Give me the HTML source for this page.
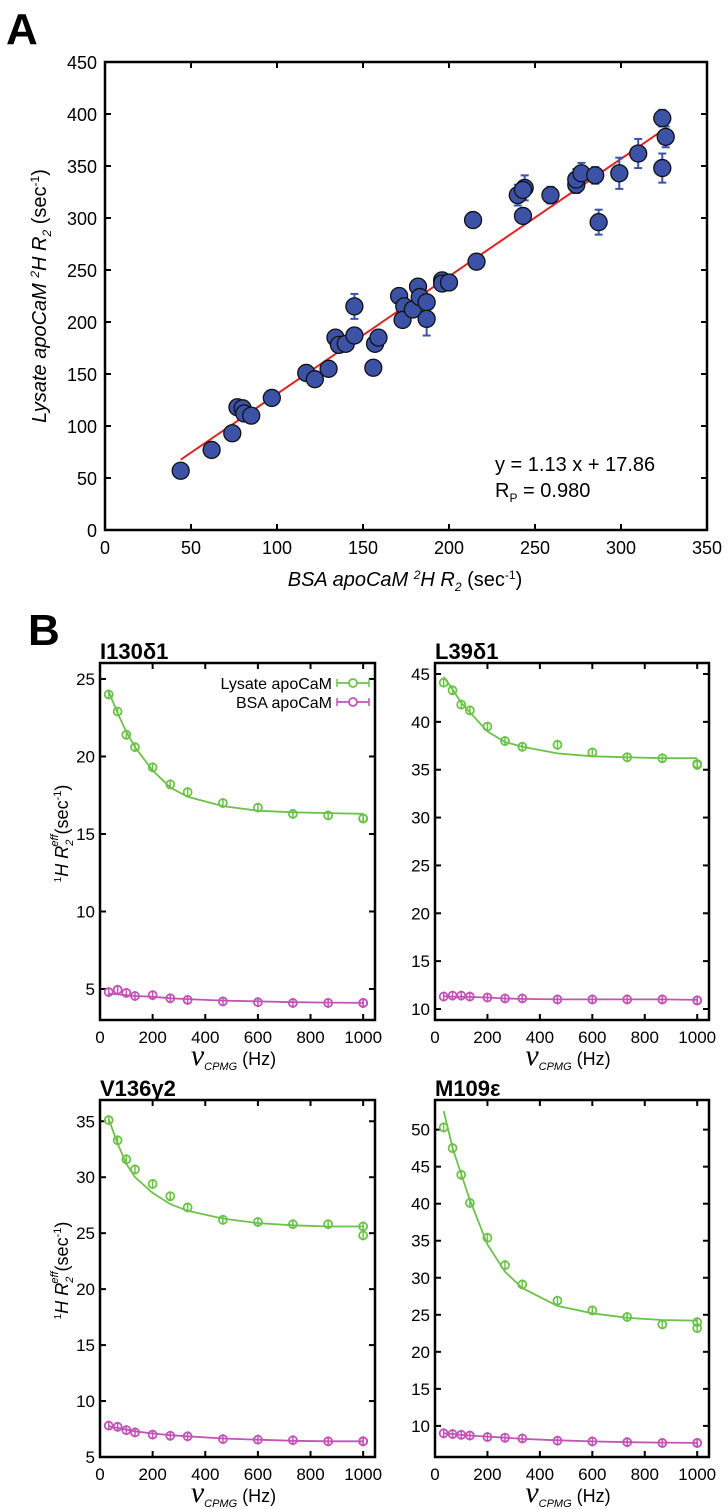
<!DOCTYPE html>
<html><head><meta charset="utf-8"><style>
html,body{margin:0;padding:0;background:#fff;}
svg{display:block;font-family:"Liberation Sans",sans-serif;}
</style></head><body>
<svg id="fig" width="728" height="1509" viewBox="0 0 728 1509" xmlns="http://www.w3.org/2000/svg">
<text x="6" y="44" font-size="44" font-weight="bold">A</text>
<text x="28" y="645" font-size="44" font-weight="bold">B</text>
<g id="gA"></g>
<g id="gB"></g>
</svg>
<script>
// Panel A data
const aX = [44,62,74,77,80,81,85,97,117,122,130,134,136,140,145,145,156,157,159,171,174,173,179,182,183,187,187,196,196,200,214,216,243,240,244,243,259,274,274,277,285,287,299,310,324,326,324];
const aY = [57,77,93,118,117,112,110,127,151,145,155,185,178,179,187,215,156,179,185,225,215,202,212,234,224,219,203,240,237,238,298,258,302,322,329,327,322,332,337,343,341,296,343,362,396,378,348];
const aErr = [2,2,2,2,2,2,2,2,2,2,2,3,2,2,3,12,2,3,3,3,3,3,3,4,5,4,16,4,4,3,3,4,6,10,12,8,8,8,10,10,8,12,15,14,8,10,14];
const aTicksX = [0,50,100,150,200,250,300,350];
const aTicksY = [0,50,100,150,200,250,300,350,400,450];
const fitSlope = 1.13, fitIntercept = 17.86, fitRange = [44,325];

// Panel B data
const nuX = [33,67,100,133,200,267,333,467,600,733,867,1000,1000];
const fitNu = [33,67,100,133,200,267,333,467,600,733,867,1000];
const i130Lys = [24.0,22.9,21.4,20.6,19.3,18.2,17.7,17.0,16.7,16.3,16.2,16.0,16.0];
const i130BSA = [4.8,4.95,4.75,4.55,4.6,4.4,4.3,4.2,4.15,4.1,4.1,4.1,4.1];
const i130LysFit = [24.2,22.8,21.6,20.6,19.1,18.0,17.4,16.8,16.5,16.4,16.35,16.3];
const i130BSAFit = [4.7,4.65,4.6,4.55,4.5,4.4,4.35,4.25,4.2,4.15,4.12,4.1];
const l39Lys = [44.1,43.3,41.8,41.2,39.5,38.0,37.4,37.6,36.8,36.3,36.2,35.6,35.5];
const l39BSA = [11.3,11.4,11.4,11.3,11.2,11.1,11.1,11.0,11.0,11.0,11.0,10.9,10.9];
const l39LysFit = [44.7,43.4,42.0,41.0,39.0,37.9,37.4,36.7,36.4,36.3,36.2,36.2];
const l39BSAFit = [11.35,11.3,11.3,11.25,11.2,11.1,11.05,11.0,11.0,11.0,11.0,10.95];
const v136Lys = [35.1,33.3,31.6,30.7,29.4,28.3,27.3,26.2,26.0,25.8,25.8,25.6,24.8];
const v136BSA = [7.8,7.7,7.4,7.2,7.0,6.9,6.85,6.6,6.55,6.5,6.4,6.4,6.4];
const v136LysFit = [35.2,33.0,31.2,30.0,28.6,27.6,27.0,26.3,25.9,25.7,25.6,25.6];
const v136BSAFit = [7.75,7.6,7.45,7.3,7.1,6.95,6.85,6.65,6.55,6.45,6.4,6.4];
const m109Lys = [50.3,47.5,43.9,40.1,35.4,31.7,29.1,26.9,25.6,24.7,23.7,24.0,23.2];
const m109BSA = [9.0,8.9,8.8,8.7,8.5,8.4,8.3,8.0,7.9,7.8,7.7,7.7,7.7];
const m109LysFit = [52.5,47.5,44.0,40.5,34.5,30.8,28.6,26.2,25.2,24.6,24.3,24.2];
const m109BSAFit = [9.0,8.9,8.8,8.7,8.55,8.4,8.25,8.05,7.9,7.8,7.75,7.7];
const bTicksX = [0,200,400,600,800,1000];
const i130TicksY = [5,10,15,20,25];
const l39TicksY = [10,15,20,25,30,35,40,45];
const v136TicksY = [5,10,15,20,25,30,35];
const m109TicksY = [10,15,20,25,30,35,40,45,50];

const NS = "http://www.w3.org/2000/svg";
function mk(parent, tag, attrs, text){
  const e = document.createElementNS(NS, tag);
  for (const k in attrs) e.setAttribute(k, attrs[k]);
  if (text !== undefined) e.textContent = text;
  parent.appendChild(e); return e;
}

// ---------- Panel A ----------
const gA = document.getElementById('gA');
const AL=105, AR=707, AT=62, AB=530;
const ax = v => AL + v/350*(AR-AL);
const ay = v => AB - v/450*(AB-AT);
let fr = mk(gA,'rect',{x:AL,y:AT,width:AR-AL,height:AB-AT,fill:'none',stroke:'#000','stroke-width':2.5});


aTicksX.forEach(t=>{
  const x=ax(t);
  mk(gA,'line',{x1:x,y1:AB,x2:x,y2:AB-6,stroke:'#000','stroke-width':2});
  mk(gA,'line',{x1:x,y1:AT,x2:x,y2:AT+6,stroke:'#000','stroke-width':2});
  const tl = mk(gA,'text',{x:x,y:554,'font-size':18,'text-anchor':'middle'},String(t));
  
  
});
aTicksY.forEach(t=>{
  const y=ay(t);
  mk(gA,'line',{x1:AL,y1:y,x2:AL+6,y2:y,stroke:'#000','stroke-width':2});
  mk(gA,'line',{x1:AR,y1:y,x2:AR-6,y2:y,stroke:'#000','stroke-width':2});
  const tl = mk(gA,'text',{x:97,y:y+7,'font-size':18,'text-anchor':'end'},String(t));
  
  
});
let fl = mk(gA,'line',{x1:ax(fitRange[0]),y1:ay(fitSlope*fitRange[0]+fitIntercept),x2:ax(fitRange[1]),y2:ay(fitSlope*fitRange[1]+fitIntercept),stroke:'#e02424','stroke-width':2});


aX.forEach((v,i)=>{
  const x=ax(v), y=ay(aY[i]), e=aErr[i]*(AB-AT)/450;
  if (aErr[i]>=5){
    mk(gA,'line',{x1:x,y1:y-e,x2:x,y2:y+e,stroke:'#3a55a8','stroke-width':2});
    mk(gA,'line',{x1:x-4,y1:y-e,x2:x+4,y2:y-e,stroke:'#3a55a8','stroke-width':2});
    mk(gA,'line',{x1:x-4,y1:y+e,x2:x+4,y2:y+e,stroke:'#3a55a8','stroke-width':2});
  }
});
aX.forEach((v,i)=>{
  const c = mk(gA,'circle',{cx:ax(v),cy:ay(aY[i]),r:8.5,fill:'#3b52a6',stroke:'#111','stroke-width':1.3});
  
  
});
let eq = mk(gA,'text',{x:495,y:471,'font-size':20},'y = 1.13 x + 17.86');


let rp = mk(gA,'text',{x:495,y:497,'font-size':20});


rp.innerHTML='R<tspan font-size="12" dy="5">P</tspan><tspan dy="-5"> = 0.980</tspan>';
let xt = mk(gA,'text',{x:405,y:586,'font-size':20,'text-anchor':'middle'});


xt.innerHTML='<tspan font-style="italic">BSA apoCaM  </tspan><tspan font-size="12" dy="-7" font-style="italic">2</tspan><tspan dy="7" font-style="italic">H R</tspan><tspan font-size="12" dy="5" font-style="italic">2</tspan><tspan dy="-5"> (sec</tspan><tspan font-size="12" dy="-7">-1</tspan><tspan dy="7">)</tspan>';
let yt = mk(gA,'text',{x:0,y:0,'font-size':20,'text-anchor':'middle',transform:'translate(46,296) rotate(-90)'});


yt.innerHTML='<tspan font-style="italic">Lysate apoCaM  </tspan><tspan font-size="12" dy="-7" font-style="italic">2</tspan><tspan dy="7" font-style="italic">H R</tspan><tspan font-size="12" dy="5" font-style="italic">2</tspan><tspan dy="-5"> (sec</tspan><tspan font-size="12" dy="-7">-1</tspan><tspan dy="7">)</tspan>';

// ---------- Panel B ----------
const gB = document.getElementById('gB');
const GREEN='#6cc24a', PINK='#c154b5';
function subplot(name,title,L,R,T,B,ymin,ymax,ticksY,lys,bsa,lysFit,bsaFit,showY,legend){
  const g = mk(gB,'g',{});
  
  
  const sx = v => L + v/1045*(R-L);
  const sy = v => B - (v-ymin)/(ymax-ymin)*(B-T);
  const tt = mk(g,'text',{x:L,y:T-4,'font-size':22,'font-weight':'bold'},title);
  
  
  bTicksX.forEach(t=>{
    const x=sx(t);
    mk(g,'line',{x1:x,y1:B,x2:x,y2:B-6,stroke:'#000','stroke-width':2});
    mk(g,'line',{x1:x,y1:T,x2:x,y2:T+6,stroke:'#000','stroke-width':2});
    const tl=mk(g,'text',{x:x,y:B+23,'font-size':17,'text-anchor':'middle'},String(t));
    
    
  });
  ticksY.forEach(t=>{
    const y=sy(t);
    mk(g,'line',{x1:L,y1:y,x2:L+6,y2:y,stroke:'#000','stroke-width':2});
    mk(g,'line',{x1:R,y1:y,x2:R-6,y2:y,stroke:'#000','stroke-width':2});
    const tl=mk(g,'text',{x:L-5,y:y+6,'font-size':17,'text-anchor':'end'},String(t));
    
    
  });
  const pts = arr => fitNu.map((v,i)=>sx(v).toFixed(1)+','+sy(arr[i]).toFixed(1)).join(' ');
  const l1=mk(g,'polyline',{points:pts(lysFit),fill:'none',stroke:GREEN,'stroke-width':1.8});
  
  
  const l2=mk(g,'polyline',{points:pts(bsaFit),fill:'none',stroke:PINK,'stroke-width':1.8});
  
  
  [[lys,GREEN,'lysate-point'],[bsa,PINK,'bsa-point']].forEach(([arr,col,nm])=>{
    nuX.forEach((v,i)=>{
      const x=sx(v), y=sy(arr[i]);
      mk(g,'line',{x1:x,y1:y-5,x2:x,y2:y+5,stroke:col,'stroke-width':1.5});
      const c=mk(g,'circle',{cx:x,cy:y,r:4,fill:'none',stroke:col,'stroke-width':1.8});
      
      
    });
  });
  mk(g,'rect',{x:L,y:T,width:R-L,height:B-T,fill:'none',stroke:'#000','stroke-width':2.5});
  const xl=mk(g,'text',{x:(L+R)/2-4,y:B+45,'text-anchor':'middle','font-size':18});
  
  
  xl.innerHTML='<tspan font-family="Liberation Serif" font-style="italic" font-size="30">ν</tspan><tspan font-style="italic" font-size="11" dy="5">CPMG</tspan><tspan dy="-5"> (Hz)</tspan>';
  if (showY){
    const yl=mk(g,'text',{x:0,y:0,'font-size':18,'text-anchor':'middle',transform:`translate(68,${(T+B)/2-8}) rotate(-90)`});
    
    
    yl.innerHTML='<tspan font-size="10" dy="-7">1</tspan><tspan dy="7" font-style="italic">H R</tspan><tspan font-size="11" dy="5" font-style="italic">2</tspan><tspan font-size="11" dy="-15" dx="-7" font-style="italic">eff</tspan><tspan dy="10">(sec</tspan><tspan font-size="11" dy="-7">-1</tspan><tspan dy="7">)</tspan>';
  }
  if (legend){
    [['Lysate apoCaM',GREEN,683],['BSA apoCaM',PINK,702]].forEach(([lab,col,y])=>{
      const t=mk(g,'text',{x:332,y:y+6,'font-size':16,'text-anchor':'end'},lab);
      
      
      mk(g,'line',{x1:337,y1:y,x2:369,y2:y,stroke:col,'stroke-width':1.8});
      mk(g,'line',{x1:337,y1:y-4,x2:337,y2:y+4,stroke:col,'stroke-width':1.5});
      mk(g,'line',{x1:369,y1:y-4,x2:369,y2:y+4,stroke:col,'stroke-width':1.5});
      mk(g,'circle',{cx:353,cy:y,r:4,fill:'#fff',stroke:col,'stroke-width':1.8});
    });
  }
}
subplot('chart-i130','I130δ1',100,375,663,1020,3,26.03,i130TicksY,i130Lys,i130BSA,i130LysFit,i130BSAFit,true,true);
subplot('chart-l39','L39δ1',435,709,663,1020,8.85,46.15,l39TicksY,l39Lys,l39BSA,l39LysFit,l39BSAFit,false,false);
subplot('chart-v136','V136γ2',100,375,1100,1457,5,36.9,v136TicksY,v136Lys,v136BSA,v136LysFit,v136BSAFit,true,false);
subplot('chart-m109','M109ε',435,709,1100,1457,5.8,54.0,m109TicksY,m109Lys,m109BSA,m109LysFit,m109BSAFit,false,false);
</script>
</body></html>
